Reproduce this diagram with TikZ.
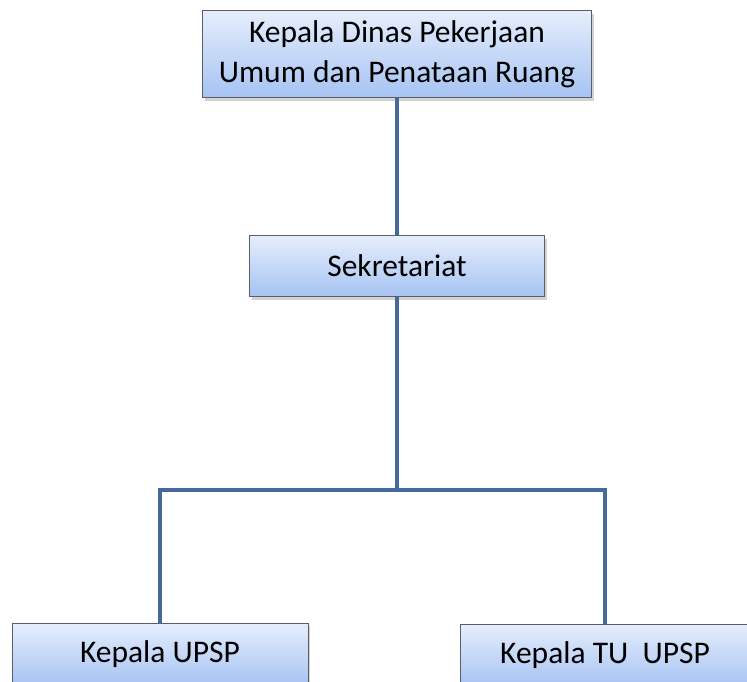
\documentclass[tikz,border=0pt]{standalone}
\usepackage{fontspec}
\setmainfont{Carlito}
\usetikzlibrary{shadows}
\definecolor{boxTop}{HTML}{E6EEFC}
\definecolor{boxBottom}{HTML}{A6C3F3}
\definecolor{boxLine}{HTML}{5A5F66}
\definecolor{linkBlue}{HTML}{44699B}
\begin{document}
\begin{tikzpicture}[x=1pt, y=-1pt,
    unitBox/.style={rectangle, draw=boxLine, line width=0.6pt, top color=boxTop, bottom color=boxBottom,
      drop shadow={shadow xshift=2pt, shadow yshift=-3pt, fill=black!35, opacity=0.5},
      align=center, inner sep=0pt, font=\fontsize{31.5}{40}\selectfont},
    link/.style={draw=linkBlue, line width=4pt}]
                    \useasboundingbox (0, 0) rectangle (747, 681);
                    \node[unitBox, minimum width=389pt, minimum height=87pt](kadis) at (397, 54) {\raisebox{-3pt}{Kepala Dinas Pekerjaan}\\\raisebox{-3pt}{Umum dan Penataan Ruang}};
                    \node[unitBox, minimum width=295pt, minimum height=61pt](sek) at (397, 266) {Sekretariat};
                    \node[unitBox, minimum width=296pt, minimum height=62pt](upsp) at (160, 654) {Kepala UPSP};
                    \node[unitBox, minimum width=290pt, minimum height=62pt](tu) at (605, 655) {Kepala TU\ \ UPSP};
                    \coordinate (bus) at (397, 490);

                    \draw[link] (kadis) -- (sek);
                    \draw[link] (sek) -- (bus);
                    \draw[link] (bus) -| (upsp);
                    \draw[link] (bus) -| (tu);
                \end{tikzpicture}
\end{document}
